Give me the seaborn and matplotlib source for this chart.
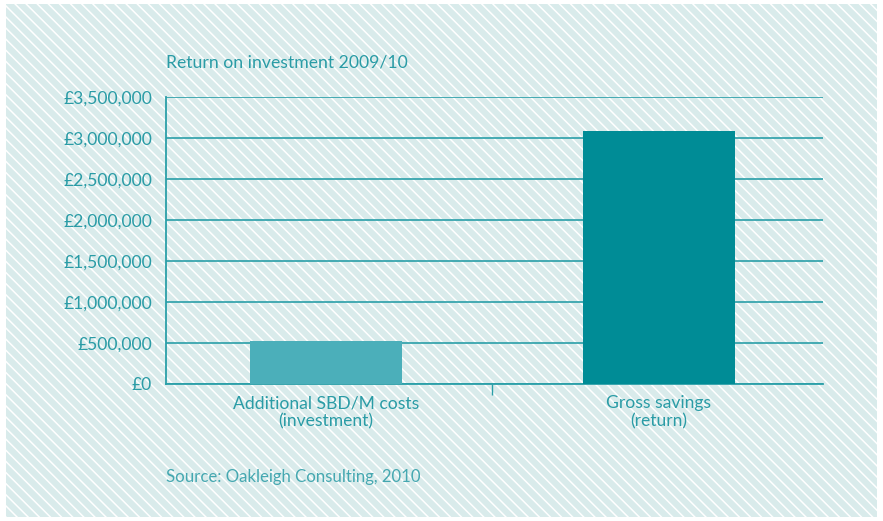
import matplotlib
matplotlib.use("Agg")
import matplotlib.pyplot as plt
import matplotlib.ticker as mticker
from matplotlib.patches import Rectangle
import seaborn as sns
import pandas as pd

categories = ["Additional SBD/M costs\n(investment)", "Gross savings\n(return)"]
values = [525000, 3090000]
bar_colors = ["#4bafba", "#008c96"]
title = "Return on investment 2009/10"
source = "Source: Oakleigh Consulting, 2010"

teal = "#2a9ca6"
line = "#2a9fa8"

sns.set_style("white")
plt.rcParams["font.family"] = ["Lato", "DejaVu Sans"]
plt.rcParams["hatch.linewidth"] = 1.1

df = pd.DataFrame({"cat": categories, "val": values})

fig = plt.figure(figsize=(8.83, 5.21), dpi=100)
fig.patch.set_facecolor("white")

# hatched panel background
bg = Rectangle((6 / 883, 1 - 517 / 521), 871 / 883, 513 / 521,
               transform=fig.transFigure, facecolor="#d9ebeb",
               edgecolor="white", hatch="\\\\\\", linewidth=0, zorder=-10)
fig.patches.append(bg)

ax = fig.add_axes([166 / 883, 1 - 384 / 521, 657 / 883, 287 / 521])
ax.set_facecolor("none")

sns.barplot(data=df, x="cat", y="val", hue="cat", palette=bar_colors,
            width=0.456, legend=False, ax=ax, zorder=3, saturation=1,
            linewidth=0)

ax.set_ylim(0, 3500000)
ax.set_xlim(-0.48, 1.493)
ax.yaxis.set_major_locator(mticker.MultipleLocator(500000))
ax.yaxis.set_major_formatter(mticker.FuncFormatter(
    lambda v, p: "£0" if v == 0 else f"£{v:,.0f}"))
ax.grid(axis="y", color=line, linewidth=1.2, zorder=1)
ax.grid(axis="x", visible=False)

for s in ["top", "right"]:
    ax.spines[s].set_visible(False)
for s in ["left", "bottom"]:
    ax.spines[s].set_color(line)
    ax.spines[s].set_linewidth(1.3)

ax.set_xlabel("")
ax.set_ylabel("")
ax.tick_params(axis="both", length=0, colors=teal, labelsize=12.6, pad=10)
ax.tick_params(axis="x", pad=8)
ax.xaxis.set_minor_locator(mticker.FixedLocator([0.5]))
ax.tick_params(axis="x", which="minor", bottom=True, length=8, width=1,
               color=line, direction="out")
for lab in ax.get_xticklabels():
    lab.set_linespacing(1.15)

fig.text(166 / 883, 1 - 62 / 521, title, color=teal, fontsize=12.7,
         ha="left", va="center")
fig.text(166 / 883, 1 - 477 / 521, source, color=teal, fontsize=12.1,
         ha="left", va="center", alpha=0.85)

fig.savefig("out.png", dpi=100)
